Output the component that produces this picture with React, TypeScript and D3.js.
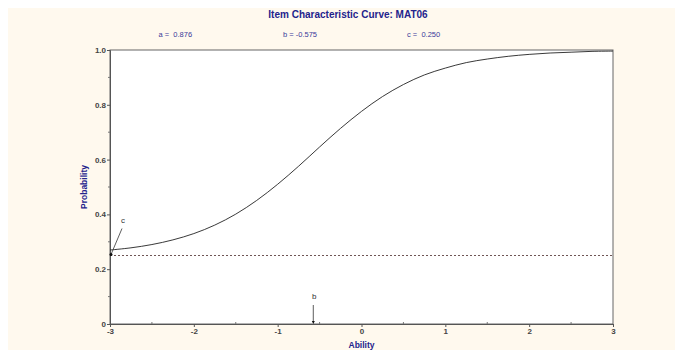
import React, { useEffect, useRef } from "react";
import * as d3 from "d3";

// item parameters (as printed on the chart)
const paramLabels = ["a =  0.876", "b = -0.575", "c =  0.250"];
const bValue = -0.575;
const cValue = 0.25;

// curve
const abilityValues = [
  -3, -2.75, -2.5, -2.25, -2, -1.75, -1.5, -1.25, -1, -0.75, -0.5, -0.25, 0,
  0.25, 0.5, 0.75, 1, 1.25, 1.5, 1.75, 2, 2.25, 2.5, 2.75, 3,
];
const probValues = [
  0.27, 0.278, 0.29, 0.307, 0.33, 0.361, 0.401, 0.451, 0.51, 0.576, 0.646,
  0.714, 0.776, 0.83, 0.874, 0.909, 0.934, 0.954, 0.967, 0.977, 0.984, 0.989,
  0.992, 0.995, 0.996,
];

const xTicks = [-3, -2, -1, 0, 1, 2, 3];
const xMinor = [-2.5, -1.5, -0.5, 0.5, 1.5, 2.5];
const yTicks = [0, 0.2, 0.4, 0.6, 0.8, 1.0];
const yMinor = [0.1, 0.3, 0.5, 0.7, 0.9];

const width = 675,
  height = 350;
const margin = { left: 102, right: 70, top: 42, bottom: 34 };

function App() {
  const svgRef = useRef<SVGSVGElement>(null);

  useEffect(() => {
    const svg = d3.select(svgRef.current);
    svg.selectAll("*").remove();

    const font = "'Liberation Sans', Arial, sans-serif";
    const navy = "#23238c";

    // background
    svg.append("rect").attr("width", width).attr("height", height).attr("fill", "#fff9ee");

    const x = d3.scaleLinear().domain([-3, 3]).range([margin.left, width - margin.right]);
    const y = d3.scaleLinear().domain([0, 1]).range([height - margin.bottom, margin.top]);

    // plot area
    svg
      .append("rect")
      .attr("x", x(-3))
      .attr("y", y(1))
      .attr("width", x(3) - x(-3))
      .attr("height", y(0) - y(1))
      .attr("fill", "#ffffff")
      .attr("stroke", "#666")
      .attr("stroke-width", 1);

    // title
    svg
      .append("text")
      .attr("x", 340)
      .attr("y", 10)
      .attr("text-anchor", "middle")
      .attr("font-family", font)
      .attr("font-size", "10px")
      .attr("font-weight", "bold")
      .attr("fill", navy)
      .text("Item Characteristic Curve: MAT06");

    // parameters
    const paramX = [150.5, 275, 399];
    paramLabels.forEach((p, i) => {
      svg
        .append("text")
        .attr("x", paramX[i])
        .attr("y", 28.5)
        .attr("font-family", font)
        .attr("font-size", "7.5px")
        .attr("fill", "#3a3a9a")
        .attr("xml:space", "preserve")
        .style("white-space", "pre")
        .text(p);
    });

    // x axis
    const xAxis = d3
      .axisBottom(x)
      .tickValues(xTicks)
      .tickSize(3)
      .tickFormat((d) => String(d));
    const gx = svg
      .append("g")
      .attr("transform", `translate(0,${y(0)})`)
      .call(xAxis);
    gx.select(".domain").attr("stroke", "#555");
    gx.selectAll(".tick line").attr("stroke", "#555");
    gx.selectAll(".tick text")
      .attr("font-family", font)
      .attr("font-size", "8px")
      .attr("font-weight", "bold")
      .attr("fill", "#444")
      .attr("dy", "0.45em");
    svg
      .append("g")
      .selectAll("line")
      .data(xMinor)
      .join("line")
      .attr("x1", (d) => x(d))
      .attr("x2", (d) => x(d))
      .attr("y1", y(0))
      .attr("y2", y(0) - 2)
      .attr("stroke", "#777");

    // y axis
    const yAxis = d3
      .axisLeft(y)
      .tickValues(yTicks)
      .tickSize(3)
      .tickFormat((d) => ((d as number) === 0 ? "0" : d3.format(".1f")(d as number)));
    const gy = svg
      .append("g")
      .attr("transform", `translate(${x(-3)},0)`)
      .call(yAxis);
    gy.select(".domain").attr("stroke", "#555");
    gy.selectAll(".tick line").attr("stroke", "#555");
    gy.selectAll(".tick text")
      .attr("font-family", font)
      .attr("font-size", "8px")
      .attr("font-weight", "bold")
      .attr("fill", "#444")
      .attr("x", -4);
    svg
      .append("g")
      .selectAll("line")
      .data(yMinor)
      .join("line")
      .attr("x1", x(-3))
      .attr("x2", x(-3) - 2)
      .attr("y1", (d) => y(d))
      .attr("y2", (d) => y(d))
      .attr("stroke", "#777");

    // axis titles
    svg
      .append("text")
      .attr("x", x(0))
      .attr("y", 340)
      .attr("text-anchor", "middle")
      .attr("font-family", font)
      .attr("font-size", "8.5px")
      .attr("font-weight", "bold")
      .attr("fill", navy)
      .text("Ability");
    svg
      .append("text")
      .attr("transform", "translate(79,179) rotate(-90)")
      .attr("text-anchor", "middle")
      .attr("font-family", font)
      .attr("font-size", "8.5px")
      .attr("font-weight", "bold")
      .attr("fill", navy)
      .text("Probability");

    // guessing asymptote
    svg
      .append("line")
      .attr("x1", x(-3))
      .attr("x2", x(3))
      .attr("y1", y(cValue))
      .attr("y2", y(cValue))
      .attr("stroke", "#4a2a2a")
      .attr("stroke-width", 0.8)
      .attr("stroke-dasharray", "2,2");

    // curve
    const pts = abilityValues.map((a, i) => [a, probValues[i]] as [number, number]);
    const line = d3
      .line<[number, number]>()
      .x((d) => x(d[0]))
      .y((d) => y(d[1]))
      .curve(d3.curveCatmullRom);
    svg
      .append("path")
      .datum(pts)
      .attr("d", line)
      .attr("fill", "none")
      .attr("stroke", "#222")
      .attr("stroke-width", 0.9);

    // c marker
    svg
      .append("line")
      .attr("x1", x(-3) + 12)
      .attr("y1", y(cValue) - 27)
      .attr("x2", x(-3) + 1)
      .attr("y2", y(cValue) - 1)
      .attr("stroke", "#333")
      .attr("stroke-width", 0.8);
    svg
      .append("circle")
      .attr("cx", x(-3) + 1)
      .attr("cy", y(cValue) - 1)
      .attr("r", 1.5)
      .attr("fill", "#111");
    svg
      .append("text")
      .attr("x", x(-3) + 13)
      .attr("y", y(cValue) - 33)
      .attr("text-anchor", "middle")
      .attr("font-family", font)
      .attr("font-size", "8px")
      .attr("fill", "#333")
      .text("c");

    // b marker
    svg
      .append("line")
      .attr("x1", x(bValue))
      .attr("x2", x(bValue))
      .attr("y1", y(0) - 19)
      .attr("y2", y(0) - 2)
      .attr("stroke", "#333")
      .attr("stroke-width", 0.8);
    svg
      .append("path")
      .attr(
        "d",
        `M${x(bValue) - 1.5},${y(0) - 3} L${x(bValue) + 1.5},${y(0) - 3} L${x(bValue)},${y(0)} Z`
      )
      .attr("fill", "#111");
    svg
      .append("text")
      .attr("x", x(bValue) + 1)
      .attr("y", y(0) - 25)
      .attr("text-anchor", "middle")
      .attr("font-family", font)
      .attr("font-size", "8px")
      .attr("fill", "#333")
      .text("b");
  }, []);

  return (
    <div>
      <svg
        ref={svgRef}
        width={width}
        height={height}
        style={{ display: "block", marginBottom: -8 }}
      />
    </div>
  );
}

export default App;
